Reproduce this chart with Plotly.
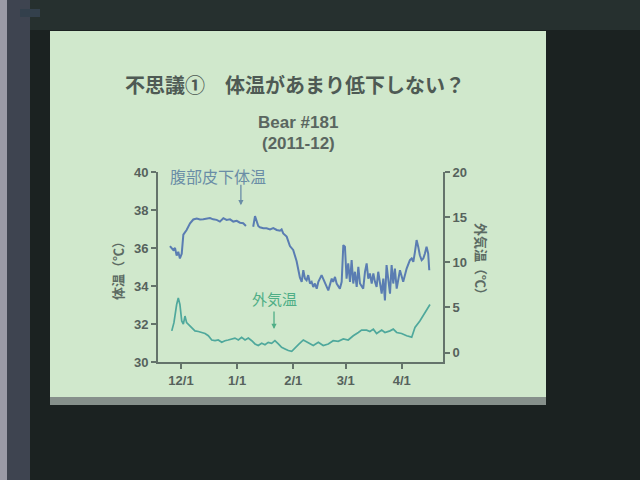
import pandas as pd
import plotly.graph_objects as go

BASE = pd.Timestamp("2011-12-01")

# Body temperature (abdominal subcutaneous), days from 2011-12-01
bt1_day = [-6.1, -4.3, -3.3, -2.4, -1.5, -0.6, 0.4, 1.3, 3.1, 5.0, 6.8, 8.7, 10.5, 12.3, 16.0,
           17.8, 19.7, 21.5, 23.4, 25.2, 27.1, 28.9, 30.8, 32.6, 34.4, 35.9]
bt1_val = [36.1, 35.9, 36.0, 35.6, 35.8, 35.45, 35.7, 36.7, 36.95, 37.3, 37.5, 37.55, 37.5, 37.51, 37.58,
           37.51, 37.48, 37.39, 37.57, 37.48, 37.51, 37.39, 37.43, 37.33, 37.30, 37.16]

bt2_day = [39.9, 40.9, 42.7, 43.6, 45.5, 47.3, 49.2, 51.0, 52.9, 54.7, 55.6, 56.5, 58.4, 60.2, 62.0,
           63.9, 65.7, 66.7, 67.6, 68.5, 69.4, 70.3, 71.3, 72.2, 73.1, 74.0, 75.0, 75.9, 77.7, 79.6,
           81.4, 83.3, 84.1, 85.1, 86.0, 87.8, 88.8, 89.7, 90.6, 91.5, 92.4, 93.4, 94.3, 95.2, 96.1,
           97.1, 98.0, 98.9, 100.7, 101.7, 102.6, 103.5, 104.4, 105.4, 106.3, 107.2, 108.1, 109.0, 109.9, 110.9,
           111.8, 112.7, 113.6, 114.5, 115.5, 116.4, 117.3, 118.2, 119.2, 121.0, 122.8, 124.7, 125.6, 126.5, 127.5,
           128.4, 129.3, 130.2, 131.1, 132.0, 133.0, 133.9, 134.8, 135.7, 136.6, 137.2]
bt2_val = [37.12, 37.68, 37.16, 37.09, 37.04, 37.04, 36.98, 37.05, 36.95, 36.91, 36.98, 36.77, 36.60, 36.10, 35.90,
           35.30, 34.45, 34.22, 34.83, 34.39, 34.30, 34.57, 34.13, 34.22, 33.95, 34.13, 33.86, 34.22, 34.57, 34.13,
           33.77, 34.39, 34.22, 34.48, 34.13, 33.86, 34.22, 36.15, 36.07, 34.39, 35.19, 34.22, 35.36, 34.13, 34.75,
           33.95, 35.01, 34.13, 33.86, 34.75, 35.19, 34.39, 34.66, 34.13, 34.66, 34.22, 33.95, 34.75, 34.22, 33.60,
           34.39, 33.24, 35.10, 34.39, 33.60, 35.10, 34.13, 34.92, 33.86, 34.83, 34.22, 34.92, 35.10, 35.36, 35.45,
           35.27, 35.80, 36.42, 36.07, 35.62, 35.36, 35.45, 35.71, 36.07, 35.71, 34.83]

# Outside air temperature
at_day = [-5.1, -3.9, -2.4, -1.5, -0.6, 0.4, 1.3, 2.2, 3.1, 4.0, 5.9, 7.7, 9.6, 11.4, 13.3,
          15.1, 17.0, 18.8, 20.6, 22.5, 24.3, 26.1, 28.0, 29.8, 31.7, 33.5, 35.4, 37.2, 39.1, 40.9,
          42.7, 44.6, 46.4, 48.2, 50.1, 51.9, 53.8, 55.6, 57.5, 59.3, 61.2, 63.0, 65.0, 67.6, 70.3,
          73.1, 75.9, 78.6, 81.4, 84.1, 86.9, 89.7, 92.4, 95.2, 98.0, 99.8, 102.6, 104.4, 106.3, 108.1,
          110.9, 112.7, 115.5, 117.3, 119.2, 121.9, 124.7, 127.5, 129.3, 132.0, 134.8, 137.6]
at_val = [2.40, 3.31, 5.32, 6.04, 5.32, 3.50, 3.14, 4.04, 3.31, 3.14, 2.77, 2.40, 2.33, 2.22, 2.11,
          1.86, 1.39, 1.31, 1.39, 1.13, 1.31, 1.39, 1.50, 1.60, 1.39, 1.68, 1.39, 1.60, 1.31, 0.95,
          0.77, 1.02, 0.87, 1.13, 1.02, 1.31, 0.95, 0.58, 0.40, 0.22, 0.14, 0.45, 0.90, 1.39, 1.13,
          0.77, 1.13, 0.77, 0.95, 1.31, 1.24, 1.50, 1.39, 1.86, 2.22, 2.48, 2.48, 2.33, 2.59, 2.11,
          2.48, 2.22, 2.40, 2.59, 2.22, 2.11, 1.86, 1.70, 2.77, 3.50, 4.41, 5.32]

x_tick_dates = ["2011-12-01", "2012-01-01", "2012-02-01", "2012-03-01", "2012-04-01"]
x_tick_text = ["12/1", "1/1", "2/1", "3/1", "4/1"]
y1_ticks = [30, 32, 34, 36, 38, 40]
y2_ticks = [0, 5, 10, 15, 20]

title_text = "不思議①　体温があまり低下しない？"
subtitle_lines = ["Bear #181", "(2011-12)"]
y1_title = "体温（℃）"
y2_title = "外気温（℃）"
label_body = "腹部皮下体温"
label_air = "外気温"


def to_dates(days):
    return [BASE + pd.Timedelta(days=d) for d in days]


# layout geometry (pixels)
W, H = 640, 480
PL, PR, PT, PB = 158, 443, 172, 362


def xp(px):
    return (px - PL) / (PR - PL)


def yp(py):
    return (PB - py) / (PB - PT)


AXC = "#64736b"
TXT = "#56625c"
LAT = "Liberation Sans, Arial, sans-serif"
CJK = "Noto Sans CJK JP, sans-serif"

fig = go.Figure()
fig.add_trace(go.Scatter(
    x=to_dates(bt1_day) + [None] + to_dates(bt2_day),
    y=bt1_val + [None] + bt2_val,
    mode="lines", line=dict(color="#5a7db2", width=2), connectgaps=False,
    showlegend=False, yaxis="y"))
fig.add_trace(go.Scatter(
    x=to_dates(at_day), y=at_val,
    mode="lines", line=dict(color="#4fa89c", width=1.7),
    showlegend=False, yaxis="y2"))

axis_common = dict(showline=True, linecolor=AXC, linewidth=2, ticks="outside",
                   tickcolor=AXC, tickwidth=2, ticklen=5, showgrid=False, zeroline=False,
                   tickfont=dict(family=LAT, size=13, color=TXT, weight="bold"))

fig.update_layout(
    width=W, height=H, autosize=False,
    margin=dict(l=PL, r=W - PR, t=PT, b=H - PB, pad=0),
    paper_bgcolor="#1b2221", plot_bgcolor="rgba(0,0,0,0)",
    xaxis=dict(type="date", range=["2011-11-18 07:00", "2012-04-23 19:00"],
               tickvals=x_tick_dates, ticktext=x_tick_text, **axis_common),
    yaxis=dict(range=[30, 40], tickvals=y1_ticks, **axis_common),
    yaxis2=dict(range=[-1.05, 20], tickvals=y2_ticks, overlaying="y", side="right",
                **axis_common),
)

shapes = [
    # left wall strip
    dict(x0=xp(0), x1=xp(7), y0=yp(0), y1=yp(480), fillcolor="#9a9aa6"),
    dict(x0=xp(7), x1=xp(30), y0=yp(0), y1=yp(480), fillcolor="#3e4450"),
    dict(x0=xp(30), x1=xp(640), y0=yp(0), y1=yp(30), fillcolor="#26302f"),
    dict(x0=xp(20), x1=xp(40), y0=yp(9), y1=yp(17), fillcolor="#33404c"),
    # projected slide
    dict(x0=xp(50), x1=xp(546), y0=yp(397), y1=yp(405), fillcolor="#86908b"),
    dict(x0=xp(50), x1=xp(546), y0=yp(31), y1=yp(397), fillcolor="#d0e8cc"),
]
for s in shapes:
    s.update(type="rect", xref="paper", yref="paper", layer="below", line=dict(width=0))
fig.update_layout(shapes=shapes)


def txt(text, px, py, family, size, color, angle=0):
    return dict(text=text, x=xp(px), y=yp(py), xref="paper", yref="paper",
                xanchor="center", yanchor="middle", textangle=angle,
                showarrow=False, font=dict(family=family, size=size, color=color))


ann = [
    txt("<b>" + title_text + "</b>", 295, 85, CJK, 20, "#4e5a54"),
    txt("<b>" + subtitle_lines[0] + "</b>", 298, 122, LAT, 17, "#5a6660"),
    txt("<b>" + subtitle_lines[1] + "</b>", 298, 143, LAT, 17, "#5a6660"),
    txt("<b>" + y1_title + "</b>", 117, 268, CJK, 13, "#5c6b63", -90),
    txt("<b>" + y2_title + "</b>", 482, 262, CJK, 13, "#5c6b63", 90),
    txt(label_body, 218, 176, CJK, 16, "#6a8da6"),
    txt(label_air, 274, 298, CJK, 15, "#4fae86"),
]
# arrows
ann.append(dict(text="", x=BASE + pd.Timedelta(days=33.1), y=38.25, xref="x", yref="y",
                showarrow=True, ax=0, ay=-22, arrowhead=2, arrowsize=0.8, arrowwidth=1.3,
                arrowcolor="#6a8da6"))
ann.append(dict(text="", x=BASE + pd.Timedelta(days=51.4), y=2.6, xref="x", yref="y2",
                showarrow=True, ax=0, ay=-19, arrowhead=2, arrowsize=0.8, arrowwidth=1.3,
                arrowcolor="#4fae86"))
fig.update_layout(annotations=ann)

fig.write_html("out.html", config={"displayModeBar": False},
               post_script="document.body.style.margin='0';document.body.style.overflow='hidden';")
